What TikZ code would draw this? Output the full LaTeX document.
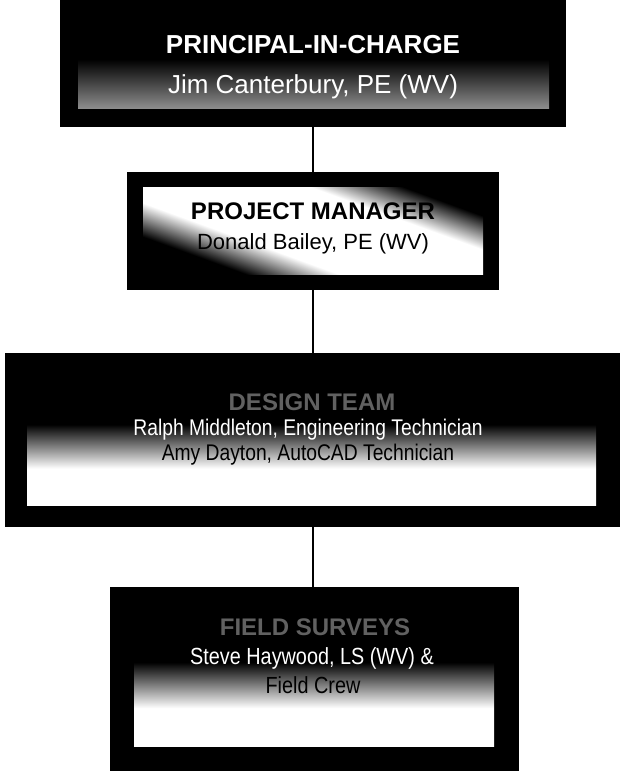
\documentclass[tikz,border=0pt]{standalone}
\usepackage{fontspec}
\setmainfont{Liberation Sans}
\newfontfamily\narrowsf{Liberation Sans}[FakeStretch=0.85]
\usetikzlibrary{positioning}

% fills of the inner panels
\pgfdeclareverticalshading{picfade}{100bp}{color(0bp)=(black!45); color(25bp)=(black!45);
  color(52bp)=(black); color(100bp)=(black)}
\pgfdeclareverticalshading{pmband}{100bp}{color(0bp)=(black); color(42bp)=(black);
  color(46bp)=(white); color(55bp)=(white); color(59bp)=(black); color(100bp)=(black)}
\pgfdeclareverticalshading{teamfade}{100bp}{color(0bp)=(white); color(39bp)=(white);
  color(56bp)=(black); color(100bp)=(black)}

\begin{document}
\begin{tikzpicture}[
  x=0.75pt, y=-0.75pt,
  frame/.style={fill=black,inner sep=0pt},
  ttl/.style={inner sep=0pt,font=\fontsize{18}{21}\selectfont\bfseries},
  bigttl/.style={inner sep=0pt,font=\fontsize{19.5}{23}\selectfont\bfseries},
  nm/.style={inner sep=0pt,font=\fontsize{16.5}{20}\selectfont},
  bignm/.style={inner sep=0pt,font=\fontsize{19.5}{23}\selectfont},
  slim/.style={inner sep=0pt,font=\narrowsf\fontsize{17}{20}\selectfont},
  faded/.style={text=black!62},
  link/.style={line width=1.3pt},
]
  \useasboundingbox (0,0) rectangle (620,771);

  % boxes
  \node[frame,minimum width=379.5pt,minimum height=95.25pt] (pic) at (313,63.5) {};
  \node[frame,minimum width=279pt,minimum height=88.5pt]    (pm)  at (313,231)  {};
  \node[frame,minimum width=462pt,minimum height=130.5pt]   (dt)  at (312.5,440) {};
  \node[frame,minimum width=306.75pt,minimum height=138pt]  (fs)  at (314,679)  {};

  \shade[shading=picfade] (78,18) rectangle (549,108);
  \begin{scope}
    \clip (143,187) rectangle (483,274);
    \begin{scope}[transform canvas={rotate around={-20:(313,230.5)}}]
      \shade[shading=pmband] (113,30.5) rectangle (513,430.5);
    \end{scope}
  \end{scope}
  \shade[shading=teamfade] (27,375)  rectangle (596,505);
  \shade[shading=teamfade] (134,611) rectangle (494,746);

  % texts
  \node[bigttl,text=white] (picT) at (313,45) {PRINCIPAL-IN-CHARGE};
  \node[bignm,text=white]  (picN) at (313,87) {Jim Canterbury, PE (WV)};

  \node[ttl] (pmT) at (313,211) {PROJECT MANAGER};
  \node[nm]  (pmN) at (313,244) {Donald Bailey, PE (WV)};

  \node[ttl,faded]       (dtT)  at (312,402) {DESIGN TEAM};
  \node[slim,text=white] (dtN1) at (308,430) {Ralph Middleton, Engineering Technician};
  \node[slim]            (dtN2) at (308,455) {Amy Dayton, AutoCAD Technician};

  \node[ttl,faded]       (fsT)  at (315,627) {FIELD SURVEYS};
  \node[slim,font=\narrowsf\fontsize{17.5}{20}\selectfont,text=white] (fsN1) at (312,658)
        {Steve Haywood, LS (WV) \&};
  \node[slim,font=\narrowsf\fontsize{17.5}{20}\selectfont] (fsN2) at (313,685) {Field Crew};

  % connectors
  \draw[link] (pic.south) -- (pm.north);
  \draw[link] (pm.south) -- (pm.south |- dt.north);
  \draw[link] (pm.south |- dt.south) -- (pm.south |- fs.north);
\end{tikzpicture}
\end{document}
